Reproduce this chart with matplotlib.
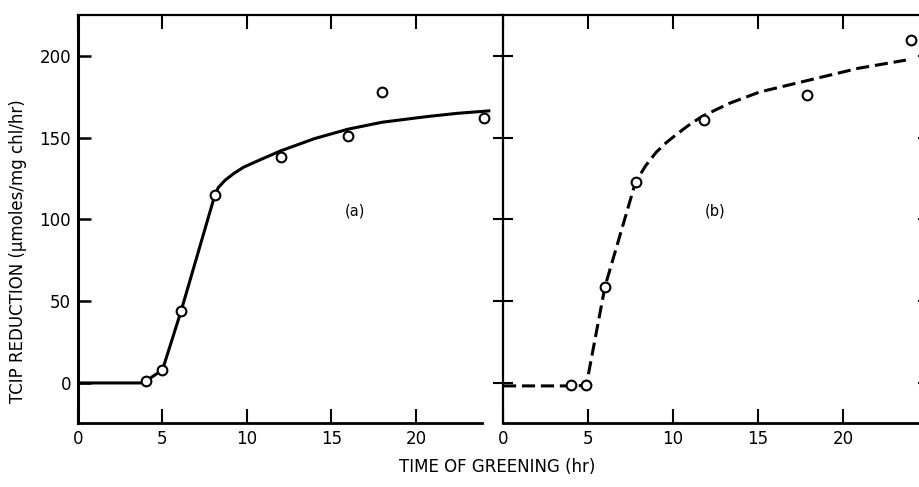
import matplotlib
matplotlib.use("Agg")
import matplotlib.pyplot as plt

plt.rcParams['font.family'] = ['DejaVu Sans']

# ---- data ----
time_a = [4, 5, 6.1, 8.1, 12, 16, 18, 24]
rate_a = [1, 8, 44, 115, 138, 151, 178, 162]
curve_a_t = [0, 3.7, 4, 5, 6.1, 8.1, 8.3, 8.7, 9.2, 9.8, 10.75, 12, 14, 16, 18, 20.6, 22.5, 24.4]
curve_a_v = [0, 0, 1, 8, 44, 115, 119.5, 124, 128, 132, 136.4, 142, 149.5, 155.3, 159.5, 162.9, 165, 166.5]

time_b = [4, 4.9, 6, 7.8, 11.8, 17.9, 24]
rate_b = [-1, -1, 59, 123, 161, 176, 210]
curve_b_t = [0, 4, 4.9, 6, 7.8, 8.4, 9.0, 9.6, 10.2, 10.9, 11.7, 13.3, 15.1, 17.9, 20.9, 23.7]
curve_b_v = [-1.8, -1.8, -1.5, 59, 123, 133, 141, 147, 152, 157.5, 163, 171, 178, 185, 192.5, 197.5]

x_ticks = [0, 5, 10, 15, 20]
y_ticks = [0, 50, 100, 150, 200]
y_tick_labels = ["0", "50", "100", "150", "200"]

W, H = 920, 487
fig = plt.figure(figsize=(W / 100, H / 100), dpi=100)

def pos(x0, x1, y0=15, y1=423):
    return [x0 / W, 1 - y1 / H, (x1 - x0) / W, (y1 - y0) / H]

ax1 = fig.add_axes(pos(78, 503))
ax2 = fig.add_axes(pos(503, 928))

ylim = (-24.5, 225.1)
for ax in (ax1, ax2):
    ax.set_ylim(*ylim)
    ax.set_yticks(y_ticks)
    ax.set_xticks(x_ticks)
    ax.set_xticklabels([str(t) for t in x_ticks])
    ax.tick_params(axis='x', which='both', direction='in', length=10, width=1.5,
                   top=True, bottom=True, labelsize=12, pad=5)
    for s in ax.spines.values():
        s.set_linewidth(1.6)

ax1.set_xlim(0, 25.15)
ax2.set_xlim(0, 25.0)

# left panel
ax1.spines['right'].set_visible(False)
ax1.spines['left'].set_linewidth(2.2)
ax1.spines['bottom'].set_linewidth(2.0)
ax1.spines['bottom'].set_bounds(0, 23.9)
ax1.set_yticklabels(y_tick_labels)
ax1.tick_params(axis='y', direction='in', length=9, width=1.8, left=True, right=False,
                labelsize=12, pad=5)

# right panel
ax2.spines['bottom'].set_linewidth(2.0)
ax2.tick_params(axis='y', direction='inout', length=14.4, width=1.5, left=True, right=True,
                labelleft=False, labelright=False)

# curves and points
ax1.plot(curve_a_t, curve_a_v, color='black', lw=2.2, solid_capstyle='butt',
         solid_joinstyle='round', zorder=2)
ax1.plot(time_a, rate_a, linestyle='none', marker='o', markersize=7,
         markerfacecolor='white', markeredgecolor='black', markeredgewidth=1.5, zorder=3)

ax2.plot(curve_b_t, curve_b_v, color='black', lw=2.2, linestyle=(0, (4.3, 1.9)), zorder=2)
ax2.plot(time_b, rate_b, linestyle='none', marker='o', markersize=7,
         markerfacecolor='white', markeredgecolor='black', markeredgewidth=1.5, zorder=3)

ax1.text(16.4, 105, "(a)", ha='center', va='center', fontsize=10.5)
ax2.text(12.5, 105, "(b)", ha='center', va='center', fontsize=10.5)

fig.text(497 / W, 1 - 467 / H, "TIME OF GREENING (hr)", ha='center', va='center', fontsize=12)
fig.text(18 / W, 1 - 251 / H, "TCIP REDUCTION (\u03bcmoles/mg chl/hr)", ha='center', va='center',
         rotation=90, fontsize=12)

fig.savefig("out.png", dpi=100)
